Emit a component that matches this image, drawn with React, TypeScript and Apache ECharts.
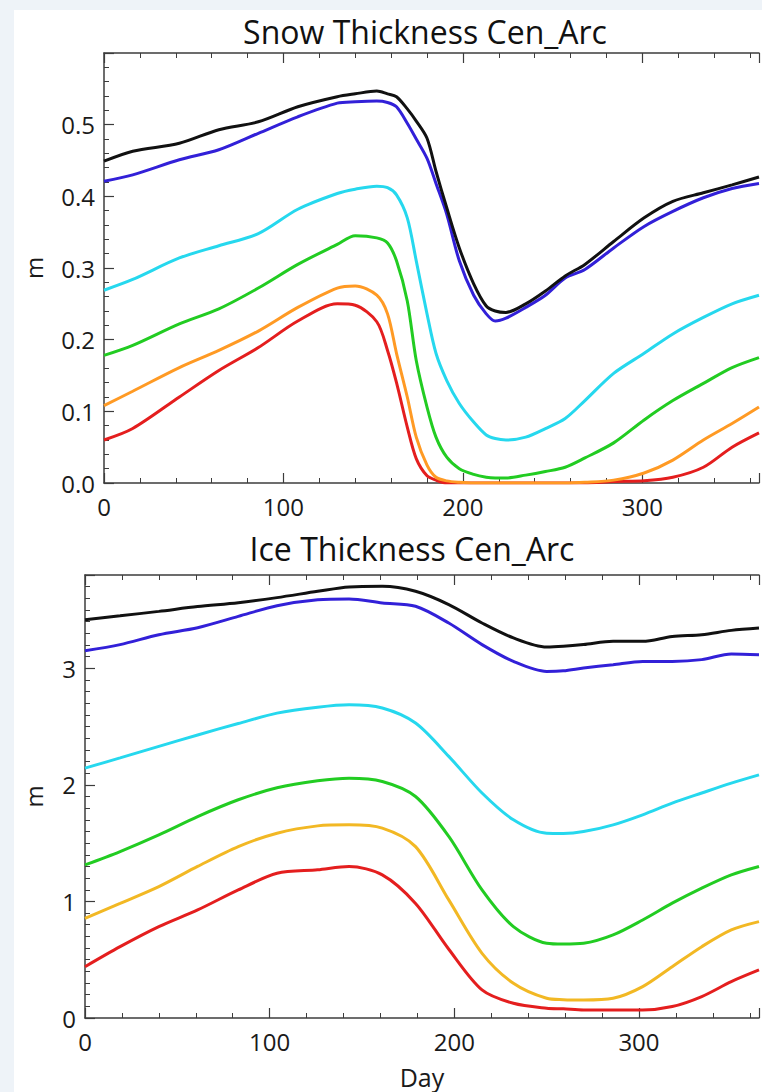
import React, { useEffect, useRef } from "react";
import * as echarts from "echarts";

const FONT = '"Open Sans", "DejaVu Sans", sans-serif';

// ---- Snow thickness (m) vs day ----
const snowDays = [0, 16, 42, 64, 86, 108, 130, 140, 152, 158, 163, 169, 174, 180, 185, 191, 198, 206, 213, 218, 224, 235, 246, 257, 268, 284, 301, 317, 334, 350, 365];
const snowBlack = [0.449, 0.463, 0.474, 0.493, 0.504, 0.525, 0.539, 0.543, 0.547, 0.543, 0.539, 0.522, 0.505, 0.481, 0.435, 0.384, 0.328, 0.278, 0.247, 0.240, 0.238, 0.250, 0.268, 0.289, 0.305, 0.337, 0.370, 0.393, 0.405, 0.416, 0.427];
const snowBlue = [0.421, 0.430, 0.451, 0.465, 0.488, 0.511, 0.530, 0.532, 0.533, 0.531, 0.525, 0.502, 0.480, 0.453, 0.418, 0.375, 0.310, 0.262, 0.236, 0.226, 0.230, 0.245, 0.262, 0.286, 0.298, 0.328, 0.358, 0.379, 0.398, 0.411, 0.418];
const snowCyan = [0.269, 0.284, 0.314, 0.331, 0.348, 0.382, 0.404, 0.410, 0.414, 0.412, 0.402, 0.370, 0.310, 0.236, 0.181, 0.143, 0.111, 0.085, 0.067, 0.062, 0.060, 0.064, 0.076, 0.090, 0.115, 0.153, 0.181, 0.208, 0.231, 0.250, 0.262];
const snowGreen = [0.178, 0.192, 0.222, 0.243, 0.272, 0.305, 0.333, 0.345, 0.342, 0.335, 0.310, 0.254, 0.171, 0.106, 0.064, 0.036, 0.020, 0.012, 0.008, 0.007, 0.007, 0.011, 0.016, 0.022, 0.035, 0.056, 0.088, 0.115, 0.139, 0.161, 0.175];
const snowOrange = [0.108, 0.128, 0.161, 0.185, 0.212, 0.245, 0.272, 0.275, 0.262, 0.236, 0.181, 0.120, 0.064, 0.025, 0.008, 0.003, 0.001, 0, 0, 0, 0, 0, 0, 0, 0.001, 0.004, 0.014, 0.032, 0.060, 0.083, 0.106];
const snowRed = [0.060, 0.076, 0.120, 0.157, 0.189, 0.226, 0.250, 0.248, 0.225, 0.185, 0.140, 0.078, 0.034, 0.010, 0.004, 0, 0, 0, 0, 0, 0, 0, 0, 0, 0, 0.002, 0.003, 0.008, 0.022, 0.050, 0.070];

// ---- Ice thickness (m) vs day ----
const iceDays = [0, 19, 40, 61, 83, 104, 126, 143, 161, 179, 197, 215, 232, 250, 259, 270, 286, 302, 318, 334, 350, 365];
const iceBlack = [3.417, 3.45, 3.488, 3.529, 3.562, 3.606, 3.66, 3.698, 3.703, 3.66, 3.546, 3.388, 3.26, 3.182, 3.188, 3.203, 3.231, 3.231, 3.273, 3.288, 3.325, 3.345];
const iceBlue = [3.151, 3.203, 3.288, 3.348, 3.445, 3.537, 3.588, 3.595, 3.56, 3.532, 3.388, 3.203, 3.059, 2.973, 2.978, 3.002, 3.031, 3.059, 3.059, 3.074, 3.122, 3.116];
const iceCyan = [2.143, 2.231, 2.33, 2.428, 2.526, 2.615, 2.666, 2.687, 2.659, 2.53, 2.244, 1.93, 1.7, 1.585, 1.583, 1.599, 1.657, 1.743, 1.843, 1.93, 2.015, 2.086];
const iceGreen = [1.313, 1.428, 1.571, 1.728, 1.872, 1.975, 2.035, 2.057, 2.029, 1.9, 1.557, 1.099, 0.784, 0.641, 0.634, 0.641, 0.713, 0.841, 0.985, 1.114, 1.228, 1.3];
const iceYellow = [0.855, 0.983, 1.127, 1.3, 1.47, 1.585, 1.648, 1.657, 1.629, 1.47, 1.013, 0.555, 0.298, 0.169, 0.157, 0.154, 0.169, 0.269, 0.44, 0.612, 0.756, 0.827];
const iceRed = [0.44, 0.612, 0.784, 0.927, 1.099, 1.241, 1.271, 1.299, 1.228, 0.983, 0.59, 0.241, 0.126, 0.084, 0.079, 0.069, 0.069, 0.069, 0.098, 0.184, 0.312, 0.412];

const snowTitle = "Snow Thickness Cen_Arc";
const iceTitle = "Ice Thickness Cen_Arc";
const xTickLabels = [0, 100, 200, 300];
const snowYTicks = [0, 0.1, 0.2, 0.3, 0.4, 0.5];
const iceYTicks = [0, 1, 2, 3];

const C_BLACK = "#111111";
const C_BLUE = "#3220d8";
const C_CYAN = "#26d8ee";
const C_GREEN = "#22cc22";
const C_ORANGE = "#ff9a24";
const C_YELLOW = "#f2b824";
const C_RED = "#e41e1e";

export default function App() {
  const ref = useRef<HTMLDivElement>(null);

  useEffect(() => {
    document.body.style.margin = "0";
    const chart = echarts.init(ref.current as HTMLDivElement, undefined, {
      renderer: "svg",
      width: 762,
      height: 1092,
    });

    const pair = (days: number[], vals: number[]) => days.map((d, i) => [d, vals[i]]);
    const axisColor = "#3c3c3c";
    const labelStyle = { color: "#1a1a1a", fontFamily: FONT, fontSize: 24 };

    const xAxis = (gridIndex: number, position: "top" | "bottom", withLabels: boolean, name?: string) => ({
      type: "value",
      gridIndex,
      position,
      min: 0,
      max: 365,
      interval: 100,
      axisLine: { show: true, onZero: false, lineStyle: { color: axisColor, width: 1.5 } },
      axisTick: { show: true, inside: true, length: 10, lineStyle: { color: axisColor, width: 1.2 } },
      minorTick: { show: true, splitNumber: 5, length: 5, lineStyle: { color: axisColor, width: 1 } },
      axisLabel: {
        show: withLabels,
        margin: 11,
        ...labelStyle,
        formatter: (v: number) => (xTickLabels.includes(v) ? String(v) : ""),
      },
      splitLine: { show: false },
      name: name || "",
      nameLocation: "middle",
      nameGap: 46,
      nameTextStyle: { color: "#1a1a1a", fontFamily: FONT, fontSize: 25 },
    });

    const yAxis = (
      gridIndex: number,
      max: number,
      interval: number,
      minorSplit: number,
      ticks: number[],
      digits: number,
      nameGap: number
    ) => ({
      type: "value",
      gridIndex,
      min: 0,
      max,
      interval,
      axisLine: { show: true, onZero: false, lineStyle: { color: axisColor, width: 1.5 } },
      axisTick: { show: true, inside: true, length: 10, lineStyle: { color: axisColor, width: 1.2 } },
      minorTick: { show: true, splitNumber: minorSplit, length: 5, lineStyle: { color: axisColor, width: 1 } },
      axisLabel: {
        margin: 9,
        ...labelStyle,
        formatter: (v: number) =>
          ticks.some((t) => Math.abs(t - v) < 1e-6) ? v.toFixed(digits) : "",
      },
      splitLine: { show: false },
      name: "m",
      nameLocation: "middle",
      nameGap,
      nameTextStyle: { color: "#1a1a1a", fontFamily: FONT, fontSize: 24 },
    });

    const line = (name: string, color: string, xi: number, yi: number, data: number[][]) => ({
      name,
      type: "line",
      xAxisIndex: xi,
      yAxisIndex: yi,
      data,
      showSymbol: false,
      symbol: "none",
      smooth: 0.3,
      clip: true,
      lineStyle: { color, width: 3 },
      itemStyle: { color },
    });

    chart.setOption({
      animation: false,
      backgroundColor: "transparent",
      grid: [
        { left: 104, top: 53, width: 365 * 1.815, height: 430, containLabel: false },
        { left: 85, top: 575, width: 365 * 1.871, height: 443, containLabel: false },
      ],
      xAxis: [
        xAxis(0, "bottom", true),
        xAxis(0, "top", false),
        xAxis(1, "bottom", true, "Day"),
        xAxis(1, "top", false),
      ],
      yAxis: [
        yAxis(0, 0.6, 0.1, 5, snowYTicks, 1, 59),
        yAxis(1, 3.8, 1, 10, iceYTicks, 0, 40),
      ],
      graphic: [
        {
          type: "text",
          x: 425,
          y: 31,
          style: {
            text: snowTitle,
            fill: "#111",
            font: `32px ${FONT}`,
            textAlign: "center",
            textVerticalAlign: "middle",
          },
        },
        {
          type: "text",
          x: 412,
          y: 548,
          style: {
            text: iceTitle,
            fill: "#111",
            font: `32px ${FONT}`,
            textAlign: "center",
            textVerticalAlign: "middle",
          },
        },
      ],
      series: [
        line("snow-red", C_RED, 0, 0, pair(snowDays, snowRed)),
        line("snow-orange", C_ORANGE, 0, 0, pair(snowDays, snowOrange)),
        line("snow-green", C_GREEN, 0, 0, pair(snowDays, snowGreen)),
        line("snow-cyan", C_CYAN, 0, 0, pair(snowDays, snowCyan)),
        line("snow-blue", C_BLUE, 0, 0, pair(snowDays, snowBlue)),
        line("snow-black", C_BLACK, 0, 0, pair(snowDays, snowBlack)),
        line("ice-red", C_RED, 2, 1, pair(iceDays, iceRed)),
        line("ice-yellow", C_YELLOW, 2, 1, pair(iceDays, iceYellow)),
        line("ice-green", C_GREEN, 2, 1, pair(iceDays, iceGreen)),
        line("ice-cyan", C_CYAN, 2, 1, pair(iceDays, iceCyan)),
        line("ice-blue", C_BLUE, 2, 1, pair(iceDays, iceBlue)),
        line("ice-black", C_BLACK, 2, 1, pair(iceDays, iceBlack)),
      ],
    });

    return () => chart.dispose();
  }, []);

  return (
    <div
      style={{
        position: "relative",
        width: 762,
        height: 1092,
        background: "#eef3f8",
        overflow: "hidden",
      }}
    >
      <div style={{ position: "absolute", left: 14, top: 10, right: 0, bottom: 0, background: "#ffffff" }} />
      <div ref={ref} style={{ position: "absolute", left: 0, top: 0, width: 762, height: 1092 }} />
    </div>
  );
}
